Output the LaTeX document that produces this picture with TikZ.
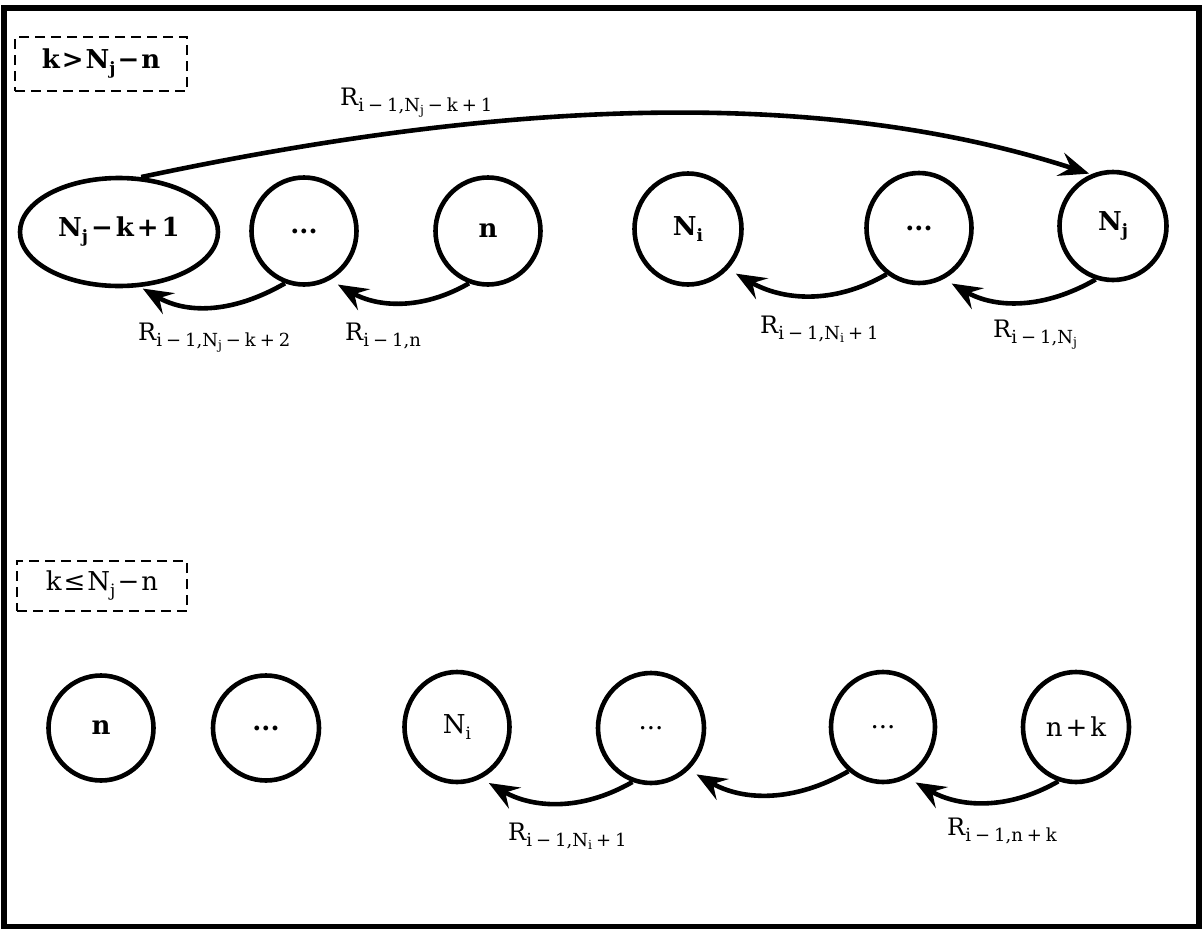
\documentclass[tikz,border=0pt]{standalone}
\usepackage{fontspec}
\setmainfont{DejaVu Serif}
\usetikzlibrary{shapes.geometric,arrows.meta}
\newcommand\nsub[1]{\raisebox{-6pt}{\fontsize{17}{17}\selectfont #1}}
\newcommand\lsub[1]{\raisebox{-6pt}{\fontsize{18}{18}\selectfont #1}}
\newcommand\ssub[1]{\raisebox{-3pt}{\fontsize{12.5}{12.5}\selectfont #1}}
\newcommand\op[1]{\hspace{4pt}#1\hspace{4pt}}
\newcommand\nop[1]{\hspace{3pt}#1\hspace{3pt}}
\newcommand\bop[1]{\hspace{2pt}#1\hspace{2pt}}
\tikzset{
  st/.style={draw, line width=4.6pt, ellipse, inner sep=0pt, font=\fontsize{26}{31}\selectfont},
  lab/.style={font=\fontsize{24}{28}\selectfont, inner sep=0pt, anchor=base west},
  arr/.style={line width=4.6pt, -{Stealth[length=30pt,width=24pt,inset=11pt]}, shorten >=9pt},
  condbox/.style={draw, line width=2.2pt, dash pattern=on 10pt off 6pt, inner sep=0pt, font=\fontsize{26}{31}\selectfont}
}
\begin{document}
\begin{tikzpicture}[x=1pt,y=1pt]
\useasboundingbox (0,0) rectangle (1203,-929);
\draw[line width=5.5pt] (4,-8) rectangle (1199,-927);

\node[condbox, minimum width=172pt, minimum height=54pt] (c1) at (101,-64) {\textbf{k\bop{>}N\nsub{j}\bop{−}n}};
\node[condbox, minimum width=170pt, minimum height=50pt] (c2) at (102,-586) {k\bop{≤}N\nsub{j}\bop{−}n};

\node[st, minimum width=198pt, minimum height=108pt] (e1) at (119,-232) {\textbf{N\nsub{j}\nop{−}k\nop{+}1}};
\node[st, minimum width=105pt, minimum height=107pt] (d1) at (304,-231) {\textbf{...}};
\node[st, minimum width=105pt, minimum height=107pt] (n1) at (488,-231) {\textbf{n}};
\node[st, minimum width=107pt, minimum height=111pt] (ni1) at (688,-229) {\textbf{N\nsub{i}}};
\node[st, minimum width=105pt, minimum height=110pt] (d2) at (919,-228) {\textbf{...}};
\node[st, minimum width=107pt, minimum height=108pt] (nj1) at (1113,-226) {\textbf{N\nsub{j}}};

\draw[arr, shorten >=3pt] (d1.-110) to[out=-150,in=-30] (e1.-69);
\draw[arr] (n1.-110) to[out=-150,in=-30] (d1.-62);
\draw[arr] (d2.-125) to[out=-150,in=-30] (ni1.-45);
\draw[arr] (nj1.-108) to[out=-150,in=-30] (d2.-64);
\draw[arr, shorten >=2pt] (e1.68) to[out=12,in=162,looseness=0.85] (nj1.113);

\node[lab] (l5) at (340,-105) {R\lsub{i\op{−}1,N\ssub{j}\op{−}k\op{+}1}};
\node[lab] (l1) at (138,-340) {R\lsub{i\op{−}1,N\ssub{j}\op{−}k\op{+}2}};
\node[lab] (l2) at (345,-340) {R\lsub{i\op{−}1,n}};
\node[lab] (l3) at (760,-333) {R\lsub{i\op{−}1,N\ssub{i}\op{+}1}};
\node[lab] (l4) at (993,-337) {R\lsub{i\op{−}1,N\ssub{j}}};

\node[st, minimum width=105pt, minimum height=105pt] (n2) at (101,-728) {\textbf{n}};
\node[st, minimum width=106pt, minimum height=105pt] (d3) at (266,-728) {\textbf{...}};
\node[st, minimum width=105pt, minimum height=110pt] (ni2) at (457,-727) {N\nsub{i}};
\node[st, minimum width=106pt, minimum height=110pt] (d4) at (651,-728) {...};
\node[st, minimum width=104pt, minimum height=110pt] (d5) at (883,-727) {...};
\node[st, minimum width=106pt, minimum height=110pt] (nk2) at (1076,-727) {n\nop{+}k};

\draw[arr] (d4.-109) to[out=-150,in=-30] (ni2.-65);
\draw[arr] (d5.-128) to[out=-150,in=-30] (d4.-48);
\draw[arr] (nk2.-108) to[out=-150,in=-30] (d5.-64);

\node[lab] (l6) at (508,-840) {R\lsub{i\op{−}1,N\ssub{i}\op{+}1}};
\node[lab] (l7) at (947,-835) {R\lsub{i\op{−}1,n\op{+}k}};
\end{tikzpicture}
\end{document}
